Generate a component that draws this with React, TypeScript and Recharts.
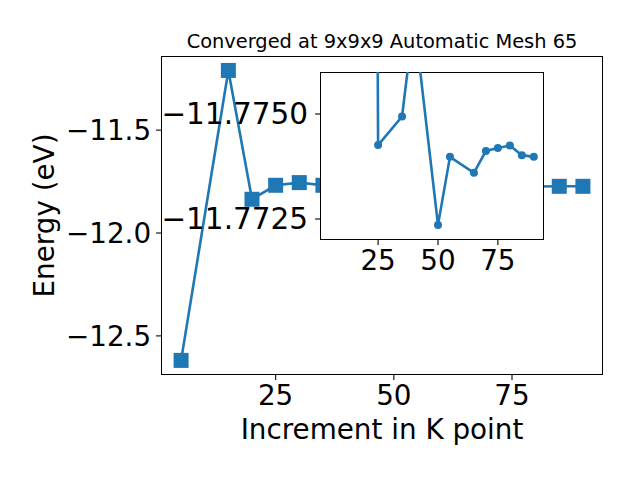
import React from 'react';
import { LineChart, Line, XAxis, YAxis } from 'recharts';

const font = '"DejaVu Sans", sans-serif';
const blue = '#1f77b4';

// main convergence curve
const kPoints = [5, 15, 20, 25, 30, 35, 40, 50, 55, 65, 70, 75, 80, 85, 90];
const energies = [-12.619, -11.21, -11.836, -11.768, -11.755, -11.768, -11.777, -11.772, -11.774, -11.774, -11.774, -11.774, -11.774, -11.773, -11.773];

// zoomed inset
const insetK = [20, 25, 35, 40, 50, 55, 65, 70, 75, 80, 85, 90];
const insetEnergies = [-11.836, -11.77426, -11.77494, -11.77729, -11.77236, -11.77398, -11.7736, -11.77412, -11.77419, -11.77425, -11.77402, -11.77398];

const xTicks = [25, 50, 75];
const yTicks = [-12.5, -12.0, -11.5];
const insetYTicks = [-11.775, -11.7725];

const title = 'Converged at 9x9x9 Automatic Mesh 65';
const xLabel = 'Increment in K point';
const yLabel = 'Energy (eV)';

const mainData = kPoints.map((k, i) => ({ k, e: energies[i] }));
const insetData = insetK.map((k, i) => ({ k, e: insetEnergies[i] }));

const minus = (v: number, digits: number) => (v < 0 ? '\u2212' : '') + Math.abs(v).toFixed(digits);

const SquareDot = (props: any) => {
  const { cx, cy } = props;
  if (cx == null || cy == null) return null;
  return <rect x={cx - 7.5} y={cy - 7.5} width={15} height={15} fill={blue} />;
};

const tickStyle = { fill: '#000', fontSize: 27.8, fontFamily: font };
const tickLine = { stroke: '#000', strokeWidth: 1.1 };

export default function App() {
  return (
    <div style={{ position: 'absolute', left: 0, top: 0, width: 640, height: 480, background: '#fff', fontFamily: font }}>
      <div style={{ position: 'absolute', left: 0, top: 0 }}>
        <LineChart width={640} height={480} data={mainData} margin={{ top: 56, right: 37, bottom: 0, left: 0 }}>
          <XAxis
            dataKey="k"
            type="number"
            domain={[0.75, 94.25]}
            ticks={xTicks}
            height={105}
            axisLine={false}
            tickLine={tickLine}
            tickSize={4.9}
            tickMargin={5}
            tick={tickStyle}
          />
          <YAxis
            type="number"
            domain={[-12.69, -11.1397]}
            ticks={yTicks}
            width={161}
            axisLine={false}
            tickLine={tickLine}
            tickSize={4.9}
            tickMargin={5}
            tick={tickStyle}
            tickFormatter={(v: number) => minus(v, 1)}
          />
          <Line
            dataKey="e"
            type="linear"
            stroke={blue}
            strokeWidth={2.6}
            dot={<SquareDot />}
            activeDot={false}
            isAnimationActive={false}
          />
        </LineChart>
      </div>

      {/* main axes frame */}
      <div style={{ position: 'absolute', left: 161, top: 56, width: 442, height: 319, border: '1px solid #000', boxSizing: 'border-box' }} />

      {/* inset background */}
      <div style={{ position: 'absolute', left: 320, top: 72, width: 224, height: 168, border: '1px solid #000', boxSizing: 'border-box', background: '#fff' }} />

      <div style={{ position: 'absolute', left: 0, top: 0 }}>
        <LineChart width={640} height={480} data={insetData} margin={{ top: 72, right: 96, bottom: 180, left: 0 }}>
          <XAxis
            dataKey="k"
            type="number"
            domain={[0.75, 94.25]}
            allowDataOverflow
            ticks={xTicks}
            height={60}
            axisLine={false}
            tickLine={tickLine}
            tickSize={4.9}
            tickMargin={5}
            tick={tickStyle}
          />
          <YAxis
            type="number"
            domain={[-11.776, -11.772]}
            reversed
            allowDataOverflow
            ticks={insetYTicks}
            width={320}
            axisLine={false}
            tickLine={tickLine}
            tickSize={4.9}
            tickMargin={7}
            tick={{ ...tickStyle, fontSize: 29.5 }}
            tickFormatter={(v: number) => minus(v, 4)}
          />
          <Line
            dataKey="e"
            type="linear"
            stroke={blue}
            strokeWidth={2.6}
            dot={{ r: 4, fill: blue, stroke: blue, strokeWidth: 0 }}
            activeDot={false}
            isAnimationActive={false}
          />
        </LineChart>
      </div>

      <svg width={640} height={480} style={{ position: 'absolute', left: 0, top: 0, pointerEvents: 'none' }}>
        <text x={382} y={48} textAnchor="middle" fontSize={19.4} fontFamily={font} fill="#000">{title}</text>
        <text x={382} y={439} textAnchor="middle" fontSize={27.8} fontFamily={font} fill="#000">{xLabel}</text>
        <text transform="translate(53.5,215.5) rotate(-90)" textAnchor="middle" fontSize={27.8} fontFamily={font} fill="#000">{yLabel}</text>
      </svg>
    </div>
  );
}
